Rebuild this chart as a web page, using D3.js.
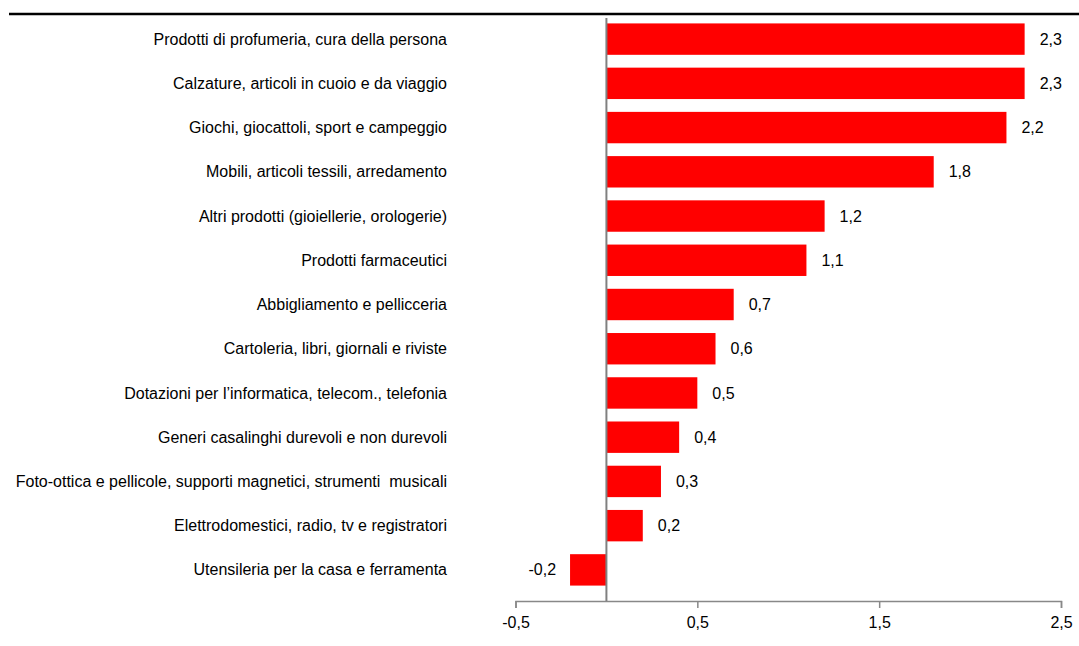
<!DOCTYPE html>
<html>
<head>
<meta charset="utf-8">
<script src="https://cdn.jsdelivr.net/npm/d3@7"></script>
<style>
  body { margin: 0; background: #fff; }
  text { font-family: "Liberation Sans", Arial, sans-serif; fill: #000; white-space: pre; }
</style>
</head>
<body>
<svg id="chart" width="1079" height="646"></svg>
<script>
var categories = [
    'Prodotti di profumeria, cura della persona',
    'Calzature, articoli in cuoio e da viaggio',
    'Giochi, giocattoli, sport e campeggio',
    'Mobili, articoli tessili, arredamento',
    'Altri prodotti (gioiellerie, orologerie)',
    'Prodotti farmaceutici',
    'Abbigliamento e pellicceria',
    'Cartoleria, libri, giornali e riviste',
    'Dotazioni per l\u2019informatica, telecom., telefonia',
    'Generi casalinghi durevoli e non durevoli',
    'Foto-ottica e pellicole, supporti magnetici, strumenti  musicali',
    'Elettrodomestici, radio, tv e registratori',
    'Utensileria per la casa e ferramenta'
];
var values = [2.3, 2.3, 2.2, 1.8, 1.2, 1.1, 0.7, 0.6, 0.5, 0.4, 0.3, 0.2, -0.2];
var tickValues = [-0.5, 0.5, 1.5, 2.5];

var svg = d3.select('#chart');
var fmt = function(v) { return v.toFixed(1).replace('.', ','); };

var x = d3.scaleLinear().domain([-0.5, 2.5]).range([515.5, 1061]);
var y = d3.scaleBand().domain(categories).range([17, 592]).paddingInner(0.29).paddingOuter(0.145);

// top rule
svg.append('line')
    .attr('x1', 9).attr('x2', 1079).attr('y1', 14).attr('y2', 14)
    .attr('stroke', '#000').attr('stroke-width', 2.5);

// bars
svg.selectAll('rect.bar').data(values).enter().append('rect')
    .attr('class', 'bar')
    .attr('x', function(d) { return x(Math.min(0, d)); })
    .attr('width', function(d) { return Math.abs(x(d) - x(0)); })
    .attr('y', function(d, i) { return y(categories[i]); })
    .attr('height', y.bandwidth())
    .attr('fill', '#ff0000');

// value labels
svg.selectAll('text.val').data(values).enter().append('text')
    .attr('class', 'val')
    .attr('x', function(d) { return d >= 0 ? x(d) + 15 : x(d) - 14; })
    .attr('y', function(d, i) { return y(categories[i]) + y.bandwidth() / 2; })
    .attr('dy', '0.35em')
    .attr('text-anchor', function(d) { return d >= 0 ? 'start' : 'end'; })
    .style('font-size', '16px')
    .text(fmt);

// category labels
svg.selectAll('text.cat').data(categories).enter().append('text')
    .attr('class', 'cat')
    .attr('x', 447)
    .attr('y', function(d) { return y(d) + y.bandwidth() / 2; })
    .attr('dy', '0.35em')
    .attr('text-anchor', 'end')
    .style('font-size', '16px')
    .text(function(d) { return d; });

// x axis
var axis = svg.append('g')
    .attr('transform', 'translate(0,601)')
    .call(d3.axisBottom(x).tickValues(tickValues).tickSize(7).tickPadding(9).tickFormat(fmt));
axis.select('.domain').attr('stroke', '#888').attr('stroke-width', 1.5);
axis.selectAll('.tick line').attr('stroke', '#888').attr('stroke-width', 1.5);
axis.selectAll('.tick text')
    .style('font-family', '"Liberation Sans", Arial, sans-serif')
    .style('font-size', '16px')
    .attr('fill', '#000');

// zero line
svg.append('line')
    .attr('x1', x(0)).attr('x2', x(0)).attr('y1', 18).attr('y2', 601)
    .attr('stroke', '#808080').attr('stroke-width', 2);
</script>
</body>
</html>
